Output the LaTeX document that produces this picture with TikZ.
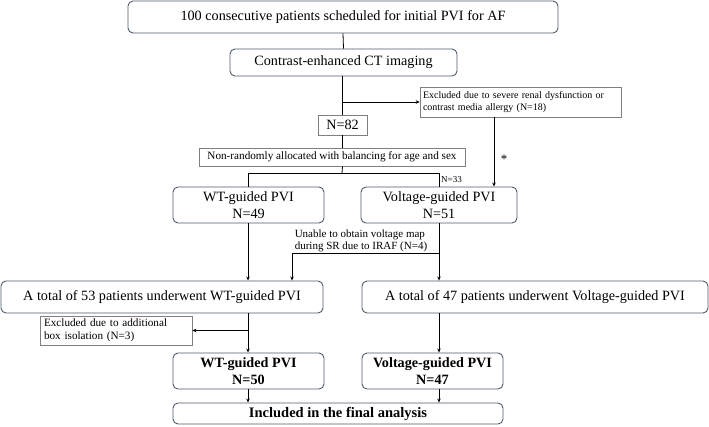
\documentclass[tikz,border=0pt]{standalone}
\usepackage{fontspec}
\setmainfont{Liberation Serif}
\usetikzlibrary{arrows.meta,calc}
\definecolor{rbox}{HTML}{4F5B6B}
\definecolor{pbox}{HTML}{7F7F7F}
\tikzset{
  rbox/.style={draw=rbox,line width=0.9pt,rounded corners=5pt,fill=white,inner sep=0pt,align=center},
  pbox/.style={draw=pbox,line width=0.7pt,fill=white,inner sep=0pt},
  big/.style={font=\fontsize{14.2}{17}\selectfont},
  mid/.style={font=\fontsize{11.2}{13}\selectfont},
  small/.style={font=\fontsize{10}{12}\selectfont},
  irafs/.style={font=\fontsize{11}{12.5}\selectfont},
  tiny/.style={font=\fontsize{9}{10}\selectfont},
  ln/.style={draw=black,line width=0.8pt},
  arr/.style={ln,-{Stealth[length=4pt,width=3.5pt]}},
}
\begin{document}
\begin{tikzpicture}[x=1pt,y=-1pt]
\useasboundingbox (0,0) rectangle (709,426);
\node[rbox,big,minimum width=430pt,minimum height=32pt] (top) at (343,17) {100 consecutive patients scheduled for initial PVI for AF};
\node[rbox,big,minimum width=227pt,minimum height=27pt] (ct) at (343.5,62.5) {Contrast-enhanced CT imaging};
\node[pbox,small,minimum width=201pt,minimum height=30pt,text width=195pt,align=left] (excl1) at (520.5,102) {Excluded due to severe renal dysfunction or\\contrast media allergy (N=18)};
\node[pbox,big,minimum width=49pt,minimum height=20pt] (n82) at (342.5,125) {N=82};
\node[pbox,mid,minimum width=266pt,minimum height=18pt] (nonrand) at (332,157) {Non-randomly allocated with balancing for age and sex};
\node[rbox,big,minimum width=151pt,minimum height=36pt] (wt) at (248.5,205) {WT-guided PVI\\N=49};
\node[rbox,big,minimum width=156pt,minimum height=36pt] (volt) at (439,205) {Voltage-guided PVI\\N=51};
\node[rbox,big,minimum width=322pt,minimum height=32pt] (tot53) at (162,297) {A total of 53 patients underwent WT-guided PVI};
\node[rbox,big,minimum width=346pt,minimum height=32pt] (tot47) at (535,297) {A total of 47 patients underwent Voltage-guided PVI};
\node[pbox,mid,minimum width=152pt,minimum height=29pt,text width=144pt,align=left] (excl2) at (116,330.5) {Excluded due to additional\\box isolation (N=3)};
\node[rbox,big,minimum width=151pt,minimum height=36pt] (wt50) at (248.5,371) {\bfseries WT-guided PVI\\\bfseries N=50};
\node[rbox,big,minimum width=141pt,minimum height=36pt] (v47) at (432.5,371) {\bfseries Voltage-guided PVI\\\bfseries N=47};
\node[rbox,font=\fontsize{14.5}{17}\selectfont,minimum width=330pt,minimum height=21pt] (final) at (338,413.5) {\bfseries Included in the final analysis};
\node[tiny,anchor=west,inner sep=1pt] (n33) at (440,180) {N=33};
\node[font=\fontsize{13}{13}\selectfont] (ast) at (504,159) {*};
\node[irafs,align=left,inner sep=0pt] (iraf) at (361,241) {Unable to obtain voltage map\\during SR due to IRAF (N=4)};
\coordinate (split) at (342,173);
\coordinate (e1b) at (494,117);
\coordinate (irafc) at (292,253);
\coordinate (wtx) at (248,0);
\coordinate (vx) at (439,0);
% connectors
\draw[ln] (top.south) -- (ct.north);
\draw[ln] (n82.north |- ct.south) -- (n82.north);
\draw[arr] (n82.north |- excl1.west) -- (excl1.west);
\draw[ln] (n82.south) -- (n82.south |- nonrand.north);
\draw[ln] (n82.south |- nonrand.south) -- (split);
\draw[ln] (wtx |- wt.north) -- (wtx |- split) -- (vx |- split) -- (vx |- volt.north);
\draw[arr] (e1b) -- (e1b |- volt.north);
\draw[arr] (wtx |- wt.south) -- (wtx |- tot53.north);
\draw[arr] (vx |- volt.south) -- (vx |- tot47.north);
\draw[arr] (vx |- irafc) -- (irafc) -- (irafc |- tot53.north);
\draw[arr] (wtx |- tot53.south) -- (wtx |- wt50.north);
\draw[arr] (wtx |- excl2.east) -- (excl2.east);
\draw[arr] (vx |- tot47.south) -- (vx |- v47.north);
\draw[arr] (wtx |- wt50.south) -- (wtx |- final.north);
\draw[arr] (vx |- v47.south) -- (vx |- final.north);
\end{tikzpicture}
\end{document}
